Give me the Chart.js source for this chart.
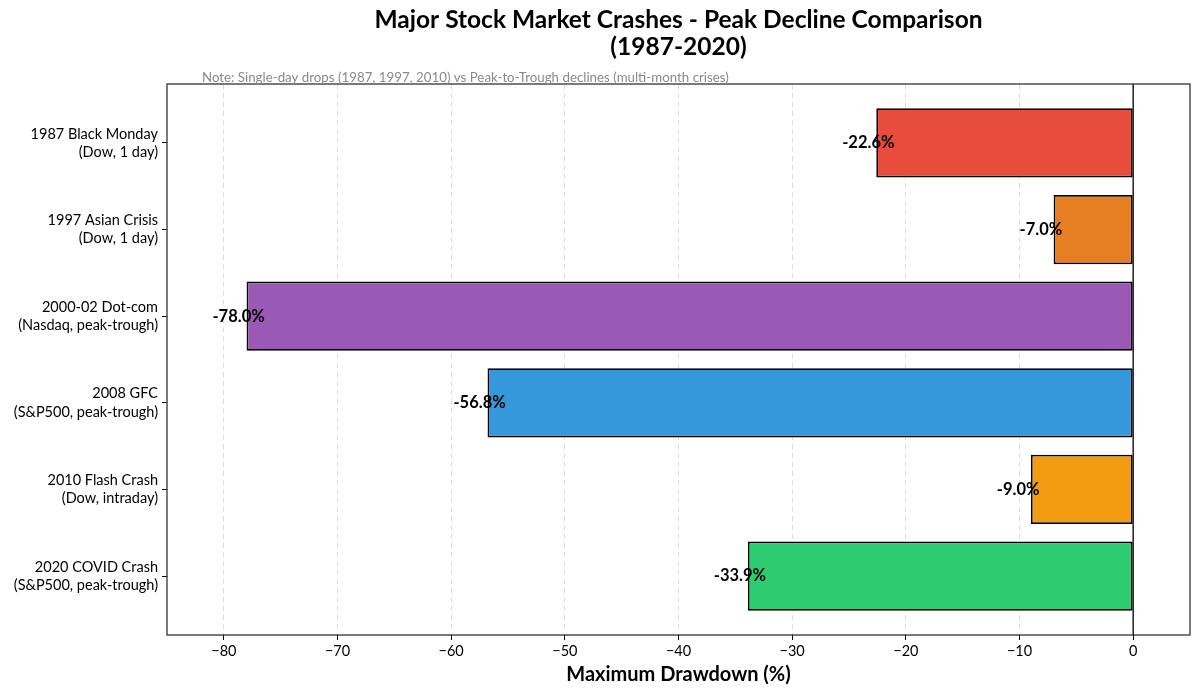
<!DOCTYPE html>
<html>
<head>
<meta charset="utf-8">
<script src="https://cdn.jsdelivr.net/npm/chart.js@4.4.0/dist/chart.umd.min.js"></script>
<style>
html,body{margin:0;padding:0;background:#fff;}
#wrap{width:1200px;height:696px;}
</style>
</head>
<body>
<div id="wrap"><canvas id="c" width="1200" height="696"></canvas></div>
<script>
const eventNames = ["1987 Black Monday", "1997 Asian Crisis", "2000-02 Dot-com", "2008 GFC", "2010 Flash Crash", "2020 COVID Crash"];
const eventNotes = ["(Dow, 1 day)", "(Dow, 1 day)", "(Nasdaq, peak-trough)", "(S&P500, peak-trough)", "(Dow, intraday)", "(S&P500, peak-trough)"];
const drawdowns = [-22.6, -7.0, -78.0, -56.8, -9.0, -33.9];
const barColors = ["#e74c3c", "#e67e22", "#9b59b6", "#3498db", "#f39c12", "#2ecc71"];
const xTicks = [-80, -70, -60, -50, -40, -30, -20, -10, 0];
const titleLines = ["Major Stock Market Crashes - Peak Decline Comparison", "(1987-2020)"];
const noteText = "Note: Single-day drops (1987, 1997, 2010) vs Peak-to-Trough declines (multi-month crises)";
const xAxisTitle = "Maximum Drawdown (%)";

const FONT = "Lato, 'Noto Sans', sans-serif";
const fmtMinus = v => v < 0 ? "\u2212" + Math.abs(v) : String(v);

const points = drawdowns.map((v, i) => ({ x: v, y: i }));

const decor = {
  id: "decor",
  beforeDatasetsDraw(chart) {
    const { ctx, chartArea: a, scales } = chart;
    ctx.save();
    const x0 = scales.x.getPixelForValue(0);
    ctx.strokeStyle = "#000";
    ctx.lineWidth = 1.3;
    ctx.beginPath();
    ctx.moveTo(x0, a.top);
    ctx.lineTo(x0, a.bottom);
    ctx.stroke();
    ctx.restore();
  },
  afterDatasetsDraw(chart) {
    const { ctx, chartArea: a, scales } = chart;
    ctx.save();
    const meta = chart.getDatasetMeta(0);
    ctx.font = "bold 16.5px " + FONT;
    ctx.fillStyle = "#000";
    ctx.textAlign = "left";
    ctx.textBaseline = "middle";
    meta.data.forEach((bar, i) => {
      const v = drawdowns[i];
      const x = scales.x.getPixelForValue(v - 3);
      ctx.fillText(v.toFixed(1) + "%", x, bar.y);
    });
    ctx.strokeStyle = "#222";
    ctx.lineWidth = 1.2;
    ctx.strokeRect(a.left, a.top, a.right - a.left, a.bottom - a.top);
    ctx.font = "13.3px " + FONT;
    ctx.fillStyle = "#8a8a8a";
    ctx.textAlign = "left";
    ctx.textBaseline = "alphabetic";
    ctx.fillText(noteText, 202, 82);
    const cx = (a.left + a.right) / 2;
    ctx.font = "bold 24.5px " + FONT;
    ctx.fillStyle = "#000";
    ctx.textAlign = "center";
    ctx.textBaseline = "middle";
    ctx.fillText(titleLines[0], cx, 20);
    ctx.fillText(titleLines[1], cx, 47);
    ctx.font = "bold 20px " + FONT;
    ctx.fillText(xAxisTitle, cx, 675);
    ctx.restore();
  }
};

new Chart(document.getElementById("c"), {
  type: "bar",
  data: {
    datasets: [{
      data: points,
      backgroundColor: barColors,
      borderColor: "#000",
      borderWidth: 1.8,
      borderSkipped: false,
      barPercentage: 0.8,
      categoryPercentage: 1.0
    }]
  },
  plugins: [decor],
  options: {
    indexAxis: "y",
    responsive: false,
    animation: false,
    devicePixelRatio: 1,
    layout: { padding: { left: 0, right: 10, top: 84, bottom: 0 } },
    plugins: { legend: { display: false }, tooltip: { enabled: false }, title: { display: false } },
    scales: {
      x: {
        type: "linear",
        min: -85,
        max: 5,
        afterBuildTicks: s => { s.ticks = xTicks.map(v => ({ value: v })); },
        afterFit: s => { s.height = 61; },
        grid: { color: "#dddddd", lineWidth: 1, tickColor: "#000", tickLength: 5, tickWidth: 1, tickBorderDash: [] },
        border: { display: false, dash: [5, 4] },
        ticks: { color: "#000", font: { family: FONT, size: 14.5 }, padding: 3, callback: v => fmtMinus(v), maxRotation: 0 }
      },
      y: {
        type: "linear",
        reverse: true,
        offset: false,
        min: -0.68,
        max: 5.68,
        afterBuildTicks: s => { s.ticks = eventNames.map((n, i) => ({ value: i })); },
        afterFit: s => { s.width = 167; },
        grid: { offset: false, drawOnChartArea: false, tickColor: "#000", tickLength: 5, tickWidth: 1 },
        border: { display: false },
        ticks: {
          color: "#000",
          font: { family: FONT, size: 14.5, lineHeight: 1.25 },
          padding: 4,
          callback: v => [eventNames[v], eventNotes[v]]
        }
      }
    }
  }
});
</script>
</body>
</html>
